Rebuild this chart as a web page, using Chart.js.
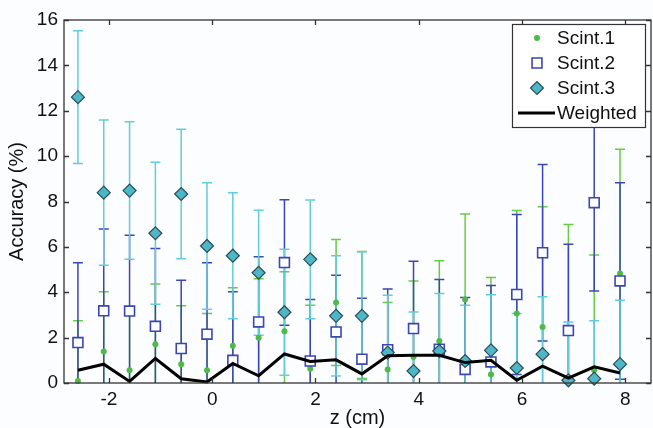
<!DOCTYPE html>
<html>
<head>
<meta charset="utf-8">
<script src="https://cdn.jsdelivr.net/npm/chart.js@4.4.0/dist/chart.umd.min.js"></script>
<style>
  html, body { margin: 0; padding: 0; background: #fcfdfe; overflow: hidden; }
  #wrap { width: 653px; height: 428px; }
  canvas { display: block; }
</style>
</head>
<body>
<div id="wrap"><canvas id="accuracy-chart" width="653" height="428"></canvas></div>
<script>
// positions along z (cm)
const zPositions = [-2.6, -2.1, -1.6, -1.1, -0.6, -0.1, 0.4, 0.9, 1.4, 1.9, 2.4,
                    2.9, 3.4, 3.9, 4.4, 4.9, 5.4, 5.9, 6.4, 6.9, 7.4, 7.9];

const scint1 = [0.09, 1.39, 0.56, 1.71, 0.83, 0.56, 1.64, 2.0, 2.28, 0.63, 3.55,
                3.0, 0.6, 1.15, 1.85, 3.68, 0.38, 3.06, 2.47, 2.33, 0.56, 4.83];
const scint1Err = [2.65, 2.63, 2.64, 2.65, 2.57, 2.5, 2.56, 2.59, 2.62, 2.8, 2.78,
                   2.8, 2.95, 3.35, 3.54, 3.77, 4.27, 4.54, 5.3, 4.66, 5.08, 5.47];

const scint2 = [1.78, 3.18, 3.17, 2.5, 1.52, 2.15, 1.0, 2.69, 5.31, 0.97, 2.25,
                1.05, 1.47, 2.4, 1.49, 0.6, 0.93, 3.9, 5.74, 2.31, 7.95, 4.5];
const scint2Err = [3.52, 3.61, 3.34, 3.43, 3.01, 3.15, 3.02, 2.87, 2.77, 2.71, 2.5,
                   2.69, 2.67, 2.97, 3.07, 3.17, 3.37, 3.53, 3.89, 3.81, 3.9, 4.33];

const scint3 = [12.6, 8.39, 8.48, 6.6, 8.33, 6.04, 5.61, 4.86, 3.12, 5.45, 2.96,
                2.96, 1.34, 0.53, 1.41, 0.97, 1.44, 0.66, 1.27, 0.12, 0.19, 0.83];
const scint3Err = [2.93, 3.2, 3.03, 3.13, 2.85, 2.79, 2.78, 2.75, 2.78, 2.62, 2.65,
                   2.82, 2.53, 2.6, 2.54, 2.46, 2.45, 2.4, 2.53, 2.57, 2.55, 2.82];

const weighted = [0.56, 0.83, 0.07, 1.08, 0.19, 0.05, 0.86, 0.32, 1.28, 0.95, 1.02,
                  0.4, 1.2, 1.22, 1.22, 0.9, 1.0, 0.12, 0.74, 0.22, 0.71, 0.44];

const xTickValues = [-2, 0, 2, 4, 6, 8];
const yTickValues = [0, 2, 4, 6, 8, 10, 12, 14, 16];

const FONT = 'Liberation Sans, Arial, Helvetica, sans-serif';

function toPoints(values) {
    return zPositions.map((z, i) => ({ x: z, y: values[i] }));
}

// vertical error bars with caps, drawn under the markers
const errorBarPlugin = {
    id: 'errorBars',
    beforeDatasetsDraw(chart) {
        const { ctx, chartArea: a, scales: { x, y } } = chart;
        ctx.save();
        ctx.beginPath();
        ctx.rect(a.left, a.top, a.right - a.left, a.bottom - a.top);
        ctx.clip();
        chart.data.datasets.forEach(ds => {
            if (!ds.errors) return;
            ctx.strokeStyle = ds.errorColor;
            ctx.lineWidth = 1.5;
            ds.data.forEach((p, i) => {
                const px = x.getPixelForValue(p.x);
                const lo = y.getPixelForValue(p.y - ds.errors[i]);
                const hi = y.getPixelForValue(p.y + ds.errors[i]);
                ctx.beginPath();
                ctx.moveTo(px, lo); ctx.lineTo(px, hi);
                ctx.moveTo(px - 5, lo); ctx.lineTo(px + 5, lo);
                ctx.moveTo(px - 5, hi); ctx.lineTo(px + 5, hi);
                ctx.stroke();
            });
        });
        ctx.restore();
    }
};

// box frame with inward ticks on all four sides
const framePlugin = {
    id: 'frame',
    afterDatasetsDraw(chart) {
        const { ctx, chartArea: a, scales: { x, y } } = chart;
        ctx.save();
        ctx.strokeStyle = '#333';
        ctx.lineWidth = 1.3;
        ctx.strokeRect(a.left, a.top, a.right - a.left, a.bottom - a.top);
        ctx.beginPath();
        xTickValues.forEach(v => {
            const px = Math.round(x.getPixelForValue(v)) + 0.5;
            ctx.moveTo(px, a.bottom); ctx.lineTo(px, a.bottom - 5);
            ctx.moveTo(px, a.top); ctx.lineTo(px, a.top + 5);
        });
        yTickValues.forEach(v => {
            const py = Math.round(y.getPixelForValue(v)) + 0.5;
            ctx.moveTo(a.left, py); ctx.lineTo(a.left + 5, py);
            ctx.moveTo(a.right, py); ctx.lineTo(a.right - 5, py);
        });
        ctx.stroke();
        ctx.restore();
    }
};

// legend box in the upper right corner of the plot
const boxLegendPlugin = {
    id: 'boxLegend',
    afterDraw(chart) {
        const { ctx, chartArea: a } = chart;
        const w = 133, h = 103;
        const left = a.right - 6 - w, top = a.top + 4;
        ctx.save();
        ctx.fillStyle = '#ffffff';
        ctx.fillRect(left, top, w, h);
        ctx.strokeStyle = '#333';
        ctx.lineWidth = 1.2;
        ctx.strokeRect(left + 0.5, top + 0.5, w, h);
        ctx.font = '19px ' + FONT;
        ctx.textBaseline = 'middle';
        ctx.textAlign = 'left';
        chart.data.datasets.forEach((ds, i) => {
            const cy = top + 14 + i * 25;
            const mx = left + 25;
            if (ds.showLine) {
                ctx.strokeStyle = ds.borderColor;
                ctx.lineWidth = ds.borderWidth;
                ctx.beginPath();
                ctx.moveTo(left + 6, cy); ctx.lineTo(left + 43, cy);
                ctx.stroke();
            } else {
                ctx.fillStyle = ds.backgroundColor;
                ctx.strokeStyle = ds.borderColor;
                ctx.lineWidth = ds.pointBorderWidth;
                Chart.helpers.drawPoint(ctx, {
                    pointStyle: ds.pointStyle, radius: ds.pointRadius,
                    borderWidth: ds.pointBorderWidth, rotation: 0
                }, mx, cy);
            }
            ctx.fillStyle = '#111';
            ctx.fillText(ds.label, left + 45, cy + 1);
        });
        ctx.restore();
    }
};

const ctx = document.getElementById('accuracy-chart').getContext('2d');
new Chart(ctx, {
    type: 'scatter',
    data: {
        datasets: [
            { label: 'Scint.1', data: toPoints(scint1), errors: scint1Err, errorColor: '#66cc44',
              pointStyle: 'circle', pointRadius: 3, pointBorderWidth: 0, pointHoverRadius: 3,
              backgroundColor: '#4dbb45', borderColor: '#4dbb45', order: 3, clip: false },
            { label: 'Scint.2', data: toPoints(scint2), errors: scint2Err, errorColor: '#3b46b4',
              pointStyle: 'rect', pointRadius: 7, pointBorderWidth: 1.6, pointHoverRadius: 7,
              backgroundColor: '#ffffff', borderColor: '#3b46b4', order: 2, clip: false },
            { label: 'Scint.3', data: toPoints(scint3), errors: scint3Err, errorColor: '#62cdda',
              pointStyle: 'rectRot', pointRadius: 6.5, pointBorderWidth: 1.2, pointHoverRadius: 6.5,
              backgroundColor: '#4db6c7', borderColor: '#2a4d55', order: 1, clip: false },
            { label: 'Weighted', data: toPoints(weighted), showLine: true,
              borderColor: '#000000', borderWidth: 3, pointRadius: 0, pointHoverRadius: 0,
              order: 0, clip: false }
        ]
    },
    options: {
        responsive: false,
        animation: false,
        events: [],
        layout: { autoPadding: false, padding: { top: 20, right: 2, left: 0, bottom: 0 } },
        plugins: { legend: { display: false }, tooltip: { enabled: false } },
        scales: {
            x: {
                type: 'linear', min: -2.87, max: 8.5,
                grid: { display: false, drawTicks: false },
                border: { display: false },
                afterFit: s => { s.height = 45; s.paddingLeft = 0; s.paddingRight = 0; },
                afterBuildTicks: s => { s.ticks = xTickValues.map(v => ({ value: v })); },
                ticks: { color: '#111', padding: 5, font: { family: FONT, size: 19 },
                         maxRotation: 0, autoSkip: false, callback: v => String(v) },
                title: { display: true, text: 'z (cm)', color: '#111',
                         font: { family: FONT, size: 20, lineHeight: 1 }, padding: { top: 0, bottom: 0 } }
            },
            y: {
                type: 'linear', min: 0, max: 16,
                grid: { display: false, drawTicks: false },
                border: { display: false },
                afterFit: s => { s.width = 64; s.paddingTop = 0; s.paddingBottom = 0; },
                afterBuildTicks: s => { s.ticks = yTickValues.map(v => ({ value: v })); },
                ticks: { color: '#111', padding: 6, font: { family: FONT, size: 19 },
                         autoSkip: false, callback: v => String(v) },
                title: { display: true, text: 'Accuracy (%)', color: '#111',
                         font: { family: FONT, size: 20, lineHeight: 1 }, padding: { top: 7, bottom: 0 } }
            }
        }
    },
    plugins: [errorBarPlugin, framePlugin, boxLegendPlugin]
});
</script>
</body>
</html>
